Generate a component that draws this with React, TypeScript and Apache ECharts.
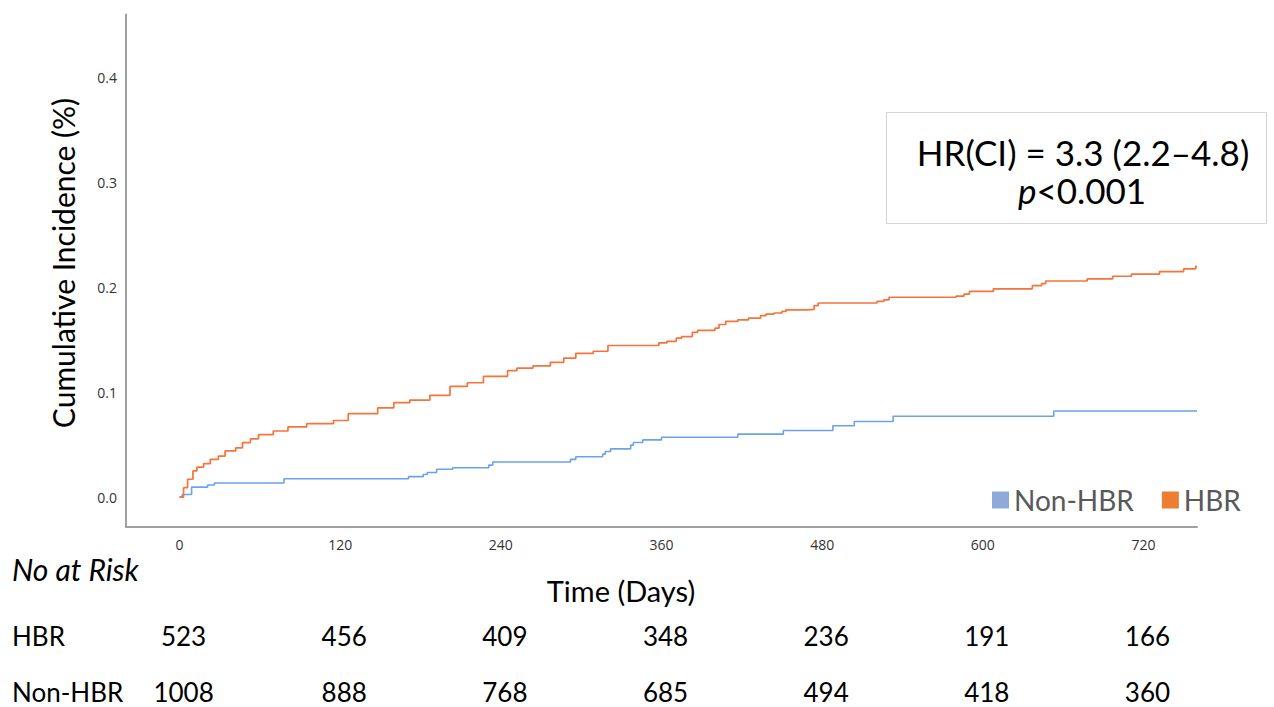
import React, { useEffect, useRef } from "react";
import * as echarts from "echarts";

const xTicks = [0, 120, 240, 360, 480, 600, 720];
const yTicks = [0, 0.1, 0.2, 0.3, 0.4];

const hbrDays = [0, 3, 6, 10, 13, 18, 23, 29, 34, 42, 47, 53, 59, 70, 81, 95, 115, 126, 148, 160, 172, 187, 202, 215, 227, 245, 252, 264, 277, 287, 296, 309, 320, 358, 364, 371, 375, 383, 387, 400, 403, 408, 417, 425, 434, 438, 444, 450, 453, 468, 474, 477, 521, 526, 530, 580, 586, 590, 608, 637, 644, 647, 678, 697, 711, 732, 750, 759, 760];
const hbrValues = [0, 0.009, 0.017, 0.025, 0.0285, 0.032, 0.036, 0.039, 0.044, 0.047, 0.052, 0.0555, 0.0595, 0.063, 0.067, 0.07, 0.073, 0.0795, 0.085, 0.09, 0.0925, 0.097, 0.1055, 0.109, 0.115, 0.1205, 0.123, 0.125, 0.1285, 0.1325, 0.137, 0.139, 0.1445, 0.147, 0.1485, 0.1515, 0.153, 0.157, 0.159, 0.161, 0.1645, 0.1675, 0.169, 0.1705, 0.173, 0.1745, 0.1755, 0.177, 0.1785, 0.179, 0.1825, 0.185, 0.1865, 0.188, 0.1905, 0.1915, 0.1935, 0.196, 0.1985, 0.2015, 0.2035, 0.206, 0.208, 0.2105, 0.2125, 0.215, 0.2175, 0.22, 0.22];

const nonHbrDays = [0, 2, 9, 21, 26, 78, 171, 182, 185, 192, 204, 231, 234, 292, 296, 316, 318, 322, 337, 339, 346, 360, 417, 451, 488, 504, 533, 653, 760];
const nonHbrValues = [0, 0.0025, 0.0095, 0.0115, 0.0135, 0.0175, 0.0195, 0.0215, 0.0235, 0.0265, 0.028, 0.0305, 0.0335, 0.036, 0.0385, 0.041, 0.0435, 0.046, 0.0495, 0.052, 0.0545, 0.057, 0.06, 0.0635, 0.068, 0.072, 0.077, 0.082, 0.082];

const riskRows = ["HBR", "Non-HBR"];
const riskHBR = [523, 456, 409, 348, 236, 191, 166];
const riskNonHBR = [1008, 888, 768, 685, 494, 418, 360];

const FONT = "Lato, 'Open Sans', sans-serif";

export default function App() {
  const ref = useRef<HTMLDivElement>(null);

  useEffect(() => {
    if (!ref.current) return;
    const chart = echarts.init(ref.current, null, { renderer: "svg" });
    const axisLineStyle = { color: "#a0a0a0", width: 2 };
    chart.setOption({
      animation: false,
      backgroundColor: "#ffffff",
      grid: { left: 126, right: 77, top: 14.5, bottom: 180, containLabel: false, outerBoundsMode: "none" },
      xAxis: {
        type: "value",
        min: -40,
        max: 760,
        axisLine: { show: true, onZero: false, lineStyle: axisLineStyle },
        axisTick: { show: false },
        splitLine: { show: false },
        axisLabel: {
          customValues: xTicks,
          margin: 10,
          color: "#333",
          fontSize: 14,
          fontFamily: "'Open Sans', sans-serif",
        },
      },
      yAxis: {
        type: "value",
        min: -0.0285,
        max: 0.46,
        axisLine: { show: true, onZero: false, lineStyle: axisLineStyle },
        axisTick: { show: false },
        splitLine: { show: false },
        axisLabel: {
          customValues: yTicks,
          margin: 9,
          color: "#333",
          fontSize: 14,
          fontFamily: "'Open Sans', sans-serif",
          formatter: (v: number) => v.toFixed(1),
        },
      },
      legend: {
        left: 987,
        top: 481,
        icon: "rect",
        itemWidth: 17,
        itemHeight: 17,
        itemGap: 28,
        textStyle: { fontSize: 28, color: "#595959", fontFamily: FONT },
        data: [
          { name: "Non-HBR", itemStyle: { color: "#8eaadb" } },
          { name: "HBR", itemStyle: { color: "#ed7d31" } },
        ],
      },
      series: [
        {
          name: "Non-HBR",
          type: "line",
          step: "end",
          showSymbol: false,
          color: "#6ba3ea",
          lineStyle: { width: 1.6, color: "#6ba3ea" },
          data: nonHbrDays.map((d, i) => [d, nonHbrValues[i]]),
        },
        {
          name: "HBR",
          type: "line",
          step: "end",
          showSymbol: false,
          color: "#f4743b",
          lineStyle: { width: 1.7, color: "#f4743b" },
          data: hbrDays.map((d, i) => [d, hbrValues[i]]),
        },
      ],
    });

    const graphics: any[] = [
      {
        type: "text",
        x: 63,
        y: 263,
        rotation: Math.PI / 2,
        style: { text: "Cumulative Incidence (%)", fontSize: 30, fontFamily: FONT, fill: "#000", align: "center", verticalAlign: "middle" },
      },
      {
        type: "text",
        x: 621,
        y: 590,
        style: { text: "Time (Days)", fontSize: 29, fontFamily: FONT, fill: "#000", align: "center", verticalAlign: "middle" },
      },
      {
        type: "text",
        x: 12,
        y: 569,
        style: { text: "No at Risk", fontSize: 30, fontStyle: "italic", fontFamily: FONT, fill: "#000", align: "left", verticalAlign: "middle" },
      },
      {
        type: "rect",
        shape: { x: 886.5, y: 112.5, width: 380, height: 111 },
        style: { fill: "#ffffff", stroke: "#d4d4d4", lineWidth: 1 },
      },
      {
        type: "text",
        x: 1083,
        y: 152,
        style: { text: "HR(CI) = 3.3 (2.2\u20134.8)", fontSize: 35, lineHeight: 35, fontFamily: FONT, fill: "#000", align: "center", verticalAlign: "middle" },
      },
      {
        type: "text",
        x: 1082,
        y: 190,
        style: {
          text: "{i|p}<0.001",
          fontSize: 35,
          lineHeight: 35,
          fontFamily: FONT,
          fill: "#000",
          align: "center",
          verticalAlign: "middle",
          rich: { i: { fontStyle: "italic", fontSize: 35, lineHeight: 35, fontFamily: FONT, fill: "#000" } },
        },
      },
    ];
    const rowY = [636, 692];
    riskRows.forEach((r, k) => {
      graphics.push({
        type: "text",
        x: 12,
        y: rowY[k],
        style: { text: r, fontSize: 26, fontFamily: FONT, fill: "#000", align: "left", verticalAlign: "middle", lineHeight: 26 },
      });
    });
    [riskHBR, riskNonHBR].forEach((row, k) => {
      row.forEach((n, i) => {
        const px = chart.convertToPixel({ xAxisIndex: 0 }, xTicks[i]) as number;
        graphics.push({
          type: "text",
          x: px + 4,
          y: rowY[k],
          style: { text: String(n), fontSize: 26, fontFamily: FONT, fill: "#000", align: "center", verticalAlign: "middle", lineHeight: 26 },
        });
      });
    });
    chart.setOption({ graphic: graphics });

    return () => chart.dispose();
  }, []);

  return (
    <div
      ref={ref}
      style={{ position: "fixed", left: 0, top: 0, width: 1274, height: 707, background: "#fff" }}
    />
  );
}
